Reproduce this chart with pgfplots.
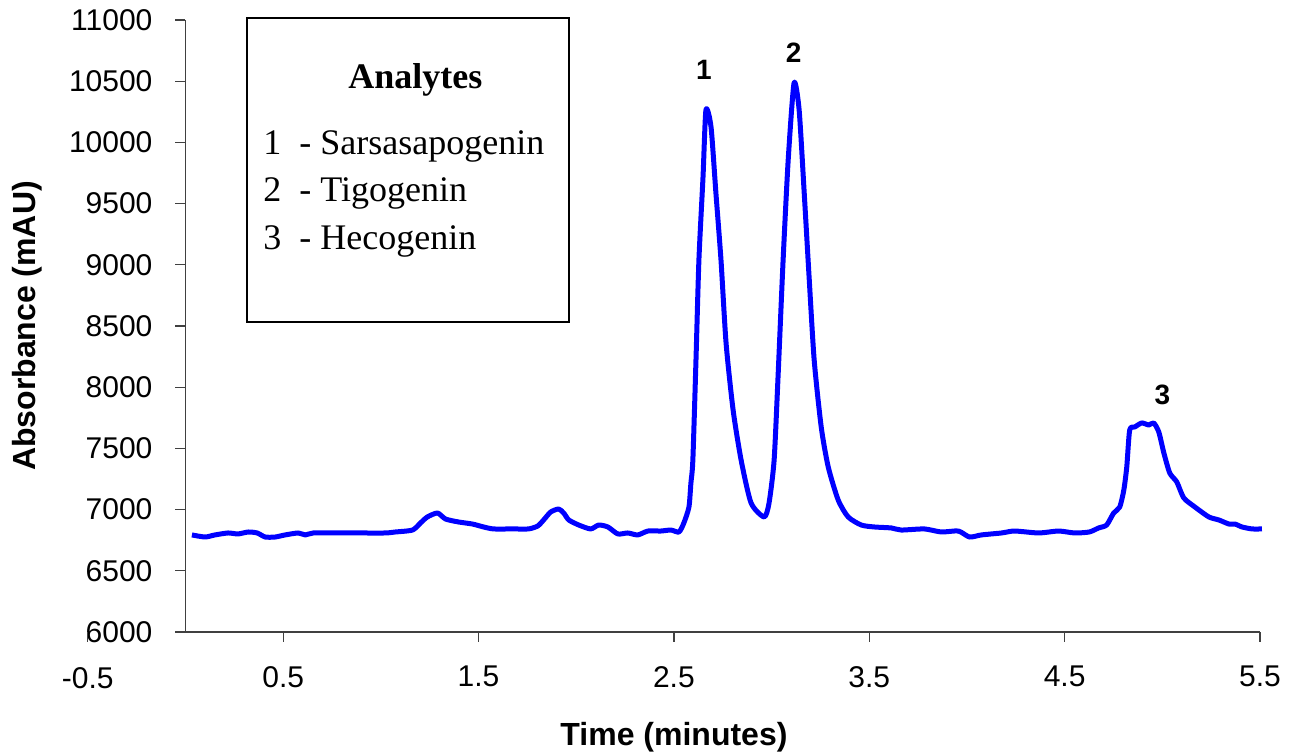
\documentclass[border=0pt]{standalone}
\usepackage{fontspec}
\setmainfont{Liberation Serif}
\newfontfamily\arial{Liberation Sans}
\usepackage{pgfplots}
\pgfplotsset{compat=1.18}
\usepackage{pgfplotstable}

\pgfplotstableread{
t a
0.033 6793
0.100 6776
0.151 6793
0.218 6809
0.269 6801
0.321 6817
0.367 6809
0.408 6776
0.459 6776
0.510 6793
0.577 6809
0.613 6793
0.654 6809
0.767 6809
0.885 6809
1.023 6809
1.074 6817
1.162 6833
1.203 6891
1.238 6940
1.290 6972
1.331 6923
1.397 6899
1.469 6882
1.526 6858
1.577 6842
1.679 6842
1.756 6842
1.803 6866
1.833 6915
1.869 6980
1.910 7005
1.936 6972
1.962 6915
2.013 6874
2.074 6842
2.115 6874
2.162 6858
2.213 6801
2.264 6809
2.315 6793
2.367 6825
2.433 6825
2.485 6833
2.526 6817
2.551 6891
2.577 7021
2.587 7217
2.597 7405
2.613 8222
2.628 9039
2.649 9717
2.664 10265
2.690 10126
2.715 9587
2.741 9039
2.767 8361
2.803 7814
2.844 7405
2.895 7054
2.962 6940
2.987 7054
3.013 7405
3.033 8083
3.059 9039
3.085 9856
3.115 10485
3.141 10265
3.167 9587
3.192 8900
3.218 8222
3.254 7675
3.290 7348
3.341 7078
3.392 6940
3.459 6874
3.526 6858
3.613 6850
3.664 6833
3.782 6842
3.869 6817
3.956 6825
4.013 6776
4.074 6793
4.177 6809
4.244 6825
4.367 6809
4.469 6825
4.551 6809
4.626 6817
4.674 6850
4.715 6874
4.751 6972
4.782 7021
4.803 7160
4.818 7348
4.833 7650
4.859 7675
4.895 7708
4.931 7691
4.956 7708
4.982 7634
5.008 7462
5.038 7299
5.074 7226
5.110 7095
5.167 7021
5.238 6940
5.290 6915
5.341 6882
5.372 6882
5.408 6858
5.459 6842
5.510 6842
}\chrom

\begin{document}
\begin{tikzpicture}
\begin{axis}[
  name=ax,
  scale only axis,
  width=537.25pt, height=306pt,
  xmin=0, xmax=5.5, ymin=6000, ymax=11000,
  axis x line=bottom, axis y line=left,
  axis line style={-, black!75, line width=0.6pt},
  tick style={black!75, line width=0.6pt},
  tick align=outside,
  major tick length=5pt,
  xtick={0.5,1.5,2.5,3.5,4.5,5.5},
  ytick={6000,6500,...,11000},
  scaled y ticks=false,
  /pgf/number format/assume math mode=true,
  /pgf/number format/set thousands separator={},
  ticklabel style={font=\arial\fontsize{15}{18}\selectfont},
  xticklabel style={/pgf/number format/fixed, /pgf/number format/precision=1, yshift=-8.5pt},
  yticklabel style={/pgf/number format/fixed, /pgf/number format/precision=0, xshift=-8pt},
  xlabel={Time (minutes)},
  ylabel={Absorbance (mAU)},
  label style={font=\arial\bfseries\fontsize{16}{19}\selectfont},
  xlabel style={at={(axis description cs:0.4546,-0.1716)}, anchor=center},
  ylabel style={at={(axis description cs:-0.1475,0.5)}, anchor=center},
  clip=false,
]
\addplot[blue, line width=2.5pt, line join=round, smooth, tension=0.4] table[x=t, y=a] {\chrom};

% tick and label at -0.5, left of the y axis
\draw[black!75, line width=0.6pt] (axis cs:-0.5,6000) -- ([yshift=-5pt]axis cs:-0.5,6000);
\node[font=\arial\fontsize{15}{18}\selectfont, anchor=north, inner sep=0pt] at ([yshift=-17.5pt]axis cs:-0.5,6000) {-0.5};

% analyte box
\draw[black, line width=0.7pt] (axis cs:0.315,11016) rectangle (axis cs:1.962,8533);
\node[anchor=base, font=\bfseries\fontsize{18}{21}\selectfont] at (axis cs:1.177,10444) {Analytes};
\node[anchor=base west, font=\fontsize{18}{21}\selectfont, inner sep=0pt] at (axis cs:0.397,9897) {1\ \ - Sarsasapogenin};
\node[anchor=base west, font=\fontsize{18}{21}\selectfont, inner sep=0pt] at (axis cs:0.397,9513) {2\ \ - Tigogenin};
\node[anchor=base west, font=\fontsize{18}{21}\selectfont, inner sep=0pt] at (axis cs:0.397,9129) {3\ \ - Hecogenin};

% peak numbers
\node[anchor=base, font=\arial\bfseries\fontsize{14}{17}\selectfont, inner sep=0pt] at (axis cs:2.654,10510) {1};
\node[anchor=base, font=\arial\bfseries\fontsize{14}{17}\selectfont, inner sep=0pt] at (axis cs:3.113,10649) {2};
\node[anchor=base, font=\arial\bfseries\fontsize{14}{17}\selectfont, inner sep=0pt] at (axis cs:5.0,7855) {3};
\end{axis}
\pgfresetboundingbox
\path[use as bounding box] ([shift={(-92.75pt,-60.5pt)}]ax.south west) rectangle ([shift={(14.5pt,10pt)}]ax.north east);
\end{tikzpicture}
\end{document}
